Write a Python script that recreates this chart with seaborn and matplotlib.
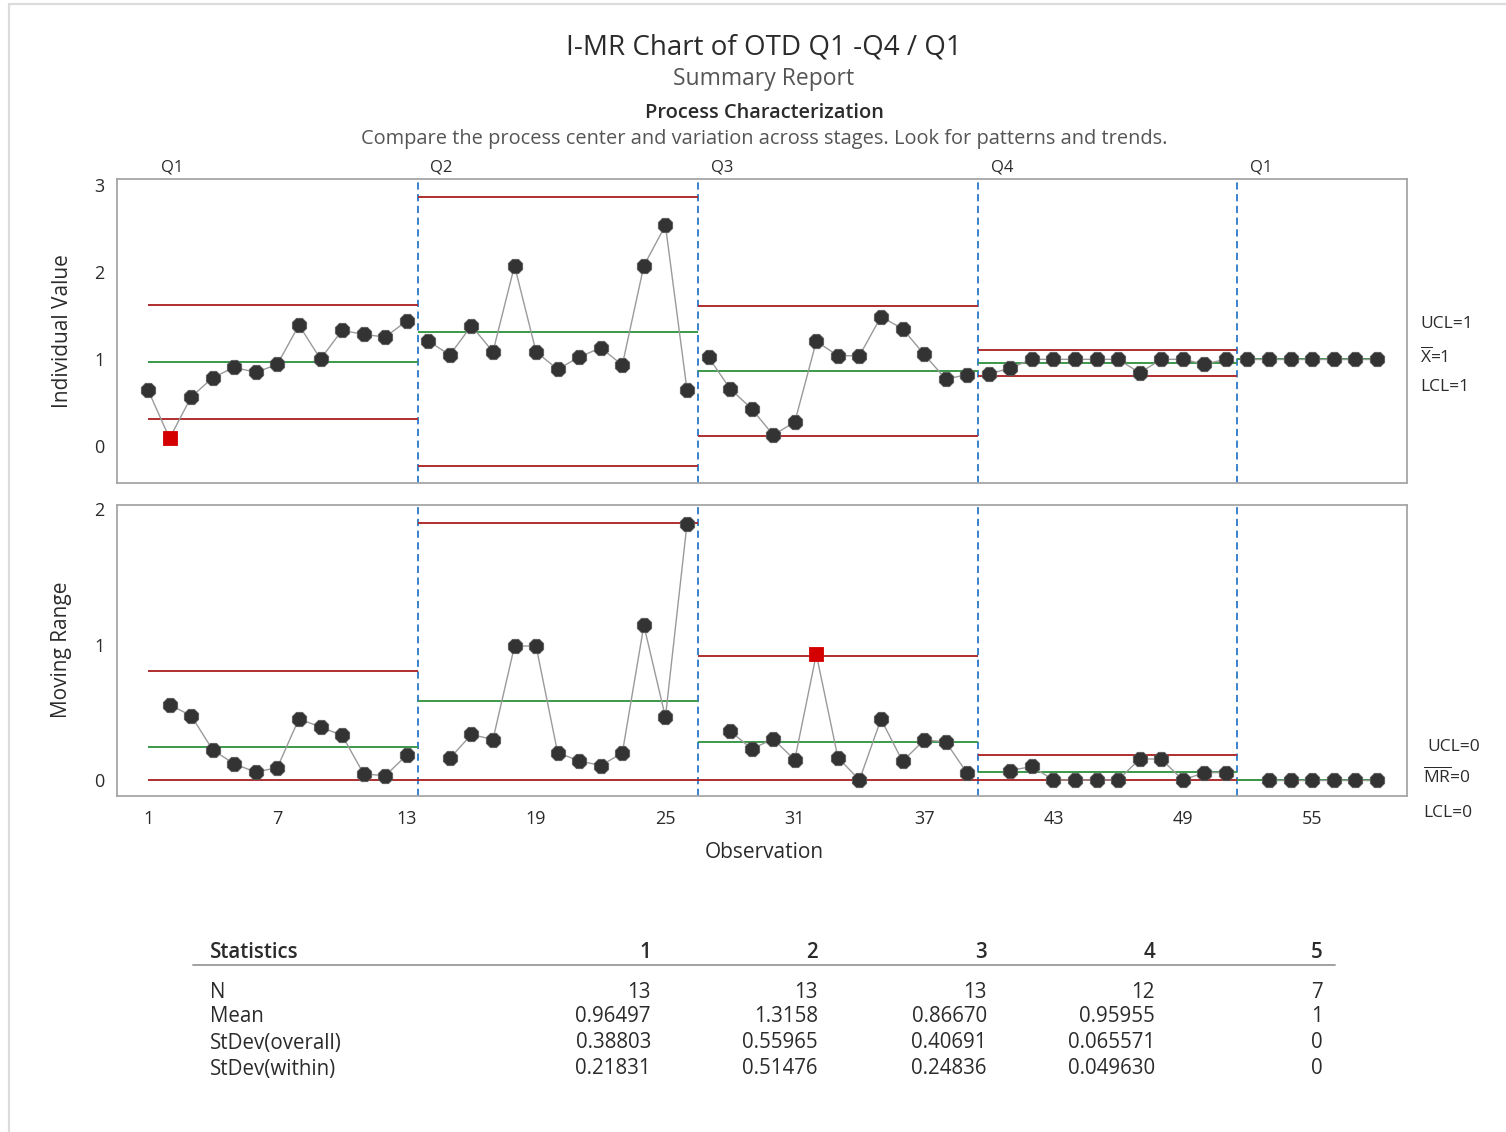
import numpy as np
import pandas as pd
import matplotlib
matplotlib.use("Agg")
import matplotlib.pyplot as plt
from matplotlib.lines import Line2D
import seaborn as sns

# ---- data -------------------------------------------------------------
stage_names = ["Q1", "Q2", "Q3", "Q4", "Q1"]
stage_sizes = [13, 13, 13, 12, 7]

otd_q1 = [0.647, 0.092, 0.567, 0.789, 0.908, 0.850, 0.942, 1.394, 1.003,
          1.333, 1.287, 1.256, 1.440]
otd_q2 = [1.210, 1.050, 1.386, 1.087, 2.076, 1.087, 0.885, 1.026, 1.133,
          0.934, 2.076, 2.540, 0.650]
otd_q3 = [1.023, 0.662, 0.432, 0.130, 0.279, 1.207, 1.041, 1.041, 1.490,
          1.352, 1.057, 0.774, 0.823]
otd_q4 = [0.830, 0.900, 1.000, 1.000, 1.000, 1.000, 1.000, 0.845, 1.000,
          1.000, 0.945, 1.000]
otd_q1_next = [1.000, 1.000, 1.000, 1.000, 1.000, 1.000, 1.000]

stat_labels = ["N", "Mean", "StDev(overall)", "StDev(within)"]
stat_mean = [0.96497, 1.3158, 0.86670, 0.95955, 1.0]
stat_sd_overall = [0.38803, 0.55965, 0.40691, 0.065571, 0.0]
stat_sd_within = [0.21831, 0.51476, 0.24836, 0.049630, 0.0]

x_ticks = [1, 7, 13, 19, 25, 31, 37, 43, 49, 55]

# ---- control chart constants -------------------------------------------
D2 = 1.128
D4 = 3.267

values = otd_q1 + otd_q2 + otd_q3 + otd_q4 + otd_q1_next
stage_idx = np.repeat(np.arange(len(stage_sizes)), stage_sizes)
df = pd.DataFrame({"obs": np.arange(1, len(values) + 1),
                   "stage": stage_idx,
                   "value": values})
df["mr"] = df.groupby("stage")["value"].diff().abs()

mean = np.array(stat_mean)
sdw = np.array(stat_sd_within)
i_ucl = mean + 3 * sdw
i_lcl = mean - 3 * sdw
mr_cl = D2 * sdw
mr_ucl = D4 * mr_cl
mr_lcl = np.zeros_like(mr_cl)

df["i_ooc"] = (df["value"] > i_ucl[df["stage"]]) | (df["value"] < i_lcl[df["stage"]])
df["mr_ooc"] = df["mr"] > mr_ucl[df["stage"]]

ends = np.cumsum(stage_sizes)
starts = ends - np.array(stage_sizes) + 1
seg_lo = starts - 0.5
seg_hi = ends + 0.5
seg_lo[0] = starts[0]
seg_hi[-1] = ends[-1]
boundaries = ends[:-1] + 0.5

# ---- styling ------------------------------------------------------------
sns.set_style("white")
plt.rcParams["font.family"] = ["Open Sans", "DejaVu Sans"]
plt.rcParams["mathtext.fontset"] = "custom"
plt.rcParams["mathtext.rm"] = "Open Sans"
plt.rcParams["mathtext.it"] = "Open Sans"

TXT = "#2b2b2b"
RED = "#b02e2e"
GREEN = "#3a9a4a"
BLUE = "#2a78c8"
FRAME = "#a6a6a6"

W, H = 1506, 1132
fig = plt.figure(figsize=(W / 100, H / 100), dpi=100)


def fx(x):
    return x / W


def fy(y):
    return 1 - y / H


left, right = 117, 1407
ax_i = fig.add_axes([fx(left), fy(482.7), (right - left) / W, (482.7 - 179.3) / H])
ax_mr = fig.add_axes([fx(left), fy(796), (right - left) / W, (796 - 505) / H])


def draw_panel(ax, col, flag, cl, ucl, lcl):
    for b in boundaries:
        ax.axvline(b, color=BLUE, lw=1.3, ls=(0, (4, 2.5)), zorder=1)
    ax.hlines(ucl, seg_lo, seg_hi, color=RED, lw=1.4, zorder=2)
    ax.hlines(lcl, seg_lo, seg_hi, color=RED, lw=1.4, zorder=2)
    ax.hlines(cl, seg_lo, seg_hi, color=GREEN, lw=1.4, zorder=2)
    d = df.dropna(subset=[col])
    sns.lineplot(data=d, x="obs", y=col, units="stage", estimator=None,
                 color="#9a9a9a", lw=1.0, ax=ax, zorder=3, legend=False)
    sns.scatterplot(data=d[~d[flag]], x="obs", y=col, marker="8", s=125,
                    color="#333333", edgecolor="#5a5a5a", linewidth=0.6,
                    ax=ax, zorder=4, legend=False)
    sns.scatterplot(data=d[d[flag]], x="obs", y=col, marker="s", s=110,
                    color="#d40000", edgecolor="#d40000", linewidth=0.6,
                    ax=ax, zorder=5, legend=False)
    ax.set_xlim(-0.44, 59.4)
    ax.set_xlabel("")
    ax.set_ylabel("")
    for sp in ax.spines.values():
        sp.set_visible(True)
        sp.set_color(FRAME)
        sp.set_linewidth(1.3)
    ax.tick_params(axis="both", direction="out", length=5, width=1,
                   color="#8a8a8a", labelsize=13, labelcolor=TXT, pad=4)


draw_panel(ax_i, "value", "i_ooc", mean, i_ucl, i_lcl)
ax_i.set_ylim(-0.418, 3.069)
ax_i.set_yticks([0, 1, 2, 3])
ax_i.set_xticks([])

draw_panel(ax_mr, "mr", "mr_ooc", mr_cl, mr_ucl, mr_lcl)
ax_mr.set_ylim(-0.118, 2.03)
ax_mr.set_yticks([0, 1, 2])
ax_mr.set_xticks(x_ticks)
ax_mr.tick_params(axis="x", pad=5)

# stage labels above the individual-value panel
stage_label_x = [1.6, 14.1, 27.1, 40.1, 52.1]
for name, xs in zip(stage_names, stage_label_x):
    ax_i.text(xs, 1.0405, name, transform=ax_i.get_xaxis_transform(),
              ha="left", va="center", fontsize=12, color=TXT)

# limit labels for the last stage
last = len(stage_sizes) - 1
LS = 12.5
fig.text(fx(1420), fy(324), f"UCL={i_ucl[last]:.0f}", fontsize=LS, color=TXT, va="center")
fig.text(fx(1420), fy(357), r"$\overline{\mathrm{X}}$" + f"={mean[last]:.0f}", fontsize=LS, color=TXT, va="center")
fig.text(fx(1420), fy(387), f"LCL={i_lcl[last]:.0f}", fontsize=LS, color=TXT, va="center")
fig.text(fx(1427), fy(747), f"UCL={mr_ucl[last]:.0f}", fontsize=LS, color=TXT, va="center")
fig.text(fx(1423), fy(777), r"$\overline{\mathrm{MR}}$" + f"={mr_cl[last]:.0f}", fontsize=LS, color=TXT, va="center")
fig.text(fx(1423), fy(813), f"LCL={mr_lcl[last]:.0f}", fontsize=LS, color=TXT, va="center")

# axis titles
fig.text(fx(62), fy(331), "Individual Value", rotation=90, ha="center", va="center",
         fontsize=15, color=TXT)
fig.text(fx(62), fy(650), "Moving Range", rotation=90, ha="center", va="center",
         fontsize=15, color=TXT)
fig.text(fx(764), fy(853), "Observation", ha="center", va="center",
         fontsize=15, color=TXT)

# headings
fig.text(fx(764), fy(47.5), "I-MR Chart of OTD Q1 -Q4 / Q1", ha="center", va="center",
         fontsize=20, color=TXT)
fig.text(fx(764), fy(79), "Summary Report", ha="center", va="center",
         fontsize=16.5, color="#555555")
fig.text(fx(764), fy(113), "Process Characterization", ha="center", va="center",
         fontsize=14.4, color=TXT, fontweight="semibold")
fig.text(fx(764), fy(139),
         "Compare the process center and variation across stages. Look for patterns and trends.",
         ha="center", va="center", fontsize=14.4, color="#555555")


# statistics table
def fmt(v):
    return str(int(v)) if float(v).is_integer() else "%#.5g" % v


TS = 14.8
col_x = [651, 818, 987, 1155, 1323]
row_y = [992, 1017, 1043, 1069]
fig.text(fx(210), fy(953), "Statistics", ha="left", va="center", fontsize=TS,
         color=TXT, fontweight="semibold")
for k, cx in enumerate(col_x):
    fig.text(fx(cx), fy(953), str(k + 1), ha="right", va="center", fontsize=TS,
             color=TXT, fontweight="semibold")
fig.add_artist(Line2D([fx(193), fx(1335)], [fy(965), fy(965)], color="#9a9a9a", lw=1.3))
rows = [stage_sizes, stat_mean, stat_sd_overall, stat_sd_within]
for lab, ry, vals in zip(stat_labels, row_y, rows):
    fig.text(fx(210), fy(ry), lab, ha="left", va="center", fontsize=TS, color=TXT)
    for cx, v in zip(col_x, vals):
        fig.text(fx(cx), fy(ry), fmt(v), ha="right", va="center", fontsize=TS, color=TXT)

# page border
fig.add_artist(Line2D([fx(8.5), fx(8.5)], [fy(3.5), 0], color="#dcdcdc", lw=1.6))
fig.add_artist(Line2D([fx(8.5), 1], [fy(3.5), fy(3.5)], color="#dcdcdc", lw=1.6))

fig.savefig("out.png", dpi=100, facecolor="white")
